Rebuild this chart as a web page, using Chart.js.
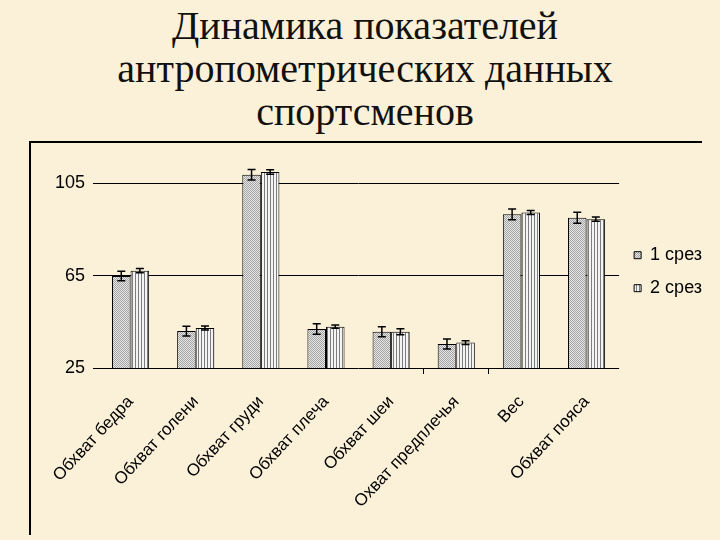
<!DOCTYPE html>
<html lang="ru">
<head>
<meta charset="utf-8">
<title>Динамика показателей</title>
<script src="https://cdn.jsdelivr.net/npm/chart.js@4/dist/chart.umd.min.js"></script>
<style>
  html, body { margin: 0; padding: 0; }
  body {
    width: 720px; height: 540px; overflow: hidden; position: relative;
    background: #fbf0d8;
  }
  #title {
    position: absolute; left: 0; top: 4px; width: 730px;
    text-align: center;
    font-family: "Liberation Serif", "Times New Roman", serif;
    font-size: 40px; line-height: 43px; color: #111;
  }
  #frame {
    position: absolute; left: 29px; top: 141px; width: 671px; height: 392px;
    border-left: 2px solid #000; border-top: 2px solid #000;
  }
  #wrap { position: absolute; left: 0; top: 0; width: 720px; height: 540px; }
</style>
</head>
<body>
<div id="title">Динамика показателей<br>антропометрических данных<br>спортсменов</div>
<div id="frame"></div>
<div id="wrap"><canvas id="chart"></canvas></div>
<script>
// chart data
const categories = [
  "Обхват бедра", "Обхват голени", "Обхват груди", "Обхват плеча",
  "Обхват шеи", "Охват предплечья", "Вес", "Обхват пояса"
];
const seriesNames = ["1 срез", "2 срез"];
const cut1 = [64.8, 41.0, 108.6, 41.9, 40.7, 35.4, 91.5, 90.0];
const cut2 = [67.1, 42.3, 109.8, 42.9, 40.7, 36.0, 92.3, 89.4];
const err1 = [2.1, 2.1, 2.3, 2.3, 2.2, 2.2, 2.3, 2.4];
const err2 = [0.9, 0.9, 0.95, 0.7, 1.3, 0.8, 0.9, 0.9];
const yTicks = [25, 65, 105];

const sans = '"Liberation Sans", Arial, sans-serif';

// hatch fills like the old office chart
function makePattern(w, h, paint) {
  const c = document.createElement("canvas");
  c.width = w;
  c.height = h;
  paint(c.getContext("2d"));
  return c.getContext("2d").createPattern(c, "repeat");
}

const dither = makePattern(2, 2, (g) => {
  g.fillStyle = "#e6e6e6";
  g.fillRect(0, 0, 2, 2);
  g.fillStyle = "#a4a4a4";
  g.fillRect(0, 0, 1, 1);
  g.fillRect(1, 1, 1, 1);
});

const stripes = makePattern(3, 1, (g) => {
  g.fillStyle = "#f4f4f4";
  g.fillRect(0, 0, 3, 1);
  g.fillStyle = "#7c7c7c";
  g.fillRect(0, 0, 1, 1);
});

// whiskers drawn from the same scales as the bars
const errorBars = {
  id: "errorBars",
  afterDatasetsDraw(chart) {
    const ctx = chart.ctx;
    const y = chart.scales.y;
    ctx.save();
    ctx.strokeStyle = "#000";
    ctx.lineWidth = 1.5;
    chart.data.datasets.forEach((ds, i) => {
      const meta = chart.getDatasetMeta(i);
      meta.data.forEach((bar, j) => {
        const v = ds.data[j];
        const e = ds.errors[j];
        const top = y.getPixelForValue(v + e);
        const bot = y.getPixelForValue(v - e);
        ctx.beginPath();
        ctx.moveTo(bar.x, top);
        ctx.lineTo(bar.x, bot);
        ctx.moveTo(bar.x - 4, top);
        ctx.lineTo(bar.x + 4, top);
        ctx.moveTo(bar.x - 4, bot);
        ctx.lineTo(bar.x + 4, bot);
        ctx.stroke();
      });
    });
    ctx.restore();
  }
};

new Chart(document.getElementById("chart"), {
  type: "bar",
  data: {
    labels: categories,
    datasets: [
      {
        label: seriesNames[0],
        data: cut1,
        errors: err1,
        backgroundColor: dither,
        borderColor: "#000",
        borderWidth: 1,
      },
      {
        label: seriesNames[1],
        data: cut2,
        errors: err2,
        backgroundColor: stripes,
        borderColor: "#000",
        borderWidth: 1,
      },
    ],
  },
  options: {
    responsive: true,
    maintainAspectRatio: false,
    animation: false,
    layout: { padding: { left: 30, top: 160, right: 8, bottom: 0 } },
    datasets: {
      bar: { barPercentage: 1, categoryPercentage: 0.57 },
    },
    plugins: {
      legend: {
        position: "right",
        align: "start",
        // empty title only pushes the two items down beside the plot
        title: { display: true, text: "", padding: { top: 70, bottom: 0 }, font: { size: 1 } },
        labels: {
          boxWidth: 7,
          boxHeight: 7,
          padding: 15,
          color: "#000",
          font: { family: sans, size: 18 },
        },
      },
      tooltip: { enabled: false },
    },
    scales: {
      x: {
        border: { display: false },
        grid: {
          drawOnChartArea: false,
          tickLength: 6,
          color: (c) => (c.index === 5 || c.index === 6 ? "#000" : "rgba(0,0,0,0)"),
        },
        ticks: {
          color: "#000",
          minRotation: 47,
          maxRotation: 47,
          padding: 18,
          font: { family: sans, size: 17 },
        },
        afterFit(scale) {
          scale.height = 172;
        },
      },
      y: {
        min: 25,
        max: 115,
        border: { display: false },
        grid: { color: "#000", lineWidth: 1, tickLength: 5 },
        ticks: {
          color: "#000",
          padding: 8,
          font: { family: sans, size: 18 },
        },
        afterBuildTicks(scale) {
          scale.ticks = yTicks.map((v) => ({ value: v }));
        },
        afterFit(scale) {
          scale.width = 68;
        },
      },
    },
  },
  plugins: [errorBars],
});
</script>
</body>
</html>
